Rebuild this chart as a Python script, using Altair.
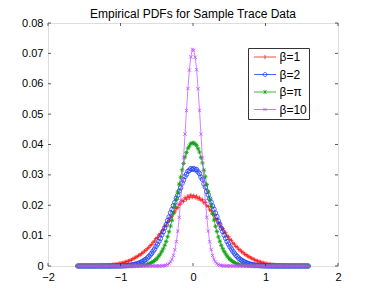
import altair as alt
import pandas as pd

# ---------------- data ----------------
labels = ["β=1", "β=2", "β=π", "β=10"]
x_start = -1.59          # first bin centre
x_step = 0.02            # bin width

beta1 = [
    0, 0, 0, 0, 0, 0.00001, 0.00001, 0.00001, 0.00002, 0.00002,
    0.00003, 0.00003, 0.00004, 0.00006, 0.00007, 0.00008, 0.00010, 0.00013, 0.00015, 0.00017,
    0.00021, 0.00025, 0.00030, 0.00034, 0.00040, 0.00047, 0.00053, 0.00062, 0.00071, 0.00082,
    0.00093, 0.00101, 0.00118, 0.00131, 0.00149, 0.00163, 0.00185, 0.00198, 0.00236, 0.00252,
    0.00285, 0.00309, 0.00348, 0.00366, 0.00412, 0.00436, 0.00491, 0.00515, 0.00572, 0.00604,
    0.00671, 0.00705, 0.00782, 0.00818, 0.00905, 0.00938, 0.01025, 0.01068, 0.01152, 0.01198,
    0.01302, 0.01349, 0.01446, 0.01492, 0.01597, 0.01641, 0.01752, 0.01781, 0.01893, 0.01921,
    0.02034, 0.02042, 0.02151, 0.02128, 0.02245, 0.02198, 0.02301, 0.02245, 0.02338, 0.02262,
    0.02318, 0.02251, 0.02296, 0.02212, 0.02243, 0.02165, 0.02180, 0.02078, 0.02091, 0.01985,
    0.01962, 0.01848, 0.01820, 0.01702, 0.01684, 0.01563, 0.01532, 0.01408, 0.01385, 0.01268,
    0.01232, 0.01119, 0.01095, 0.00985, 0.00962, 0.00868, 0.00845, 0.00752, 0.00721, 0.00642,
    0.00623, 0.00548, 0.00527, 0.00468, 0.00449, 0.00392, 0.00378, 0.00331, 0.00315, 0.00272,
    0.00258, 0.00223, 0.00207, 0.00176, 0.00165, 0.00141, 0.00133, 0.00112, 0.00103, 0.00088,
    0.00081, 0.00068, 0.00061, 0.00051, 0.00046, 0.00038, 0.00034, 0.00027, 0.00025, 0.00020,
    0.00017, 0.00014, 0.00012, 0.00010, 0.00008, 0.00007, 0.00005, 0.00004, 0.00003, 0.00003,
    0.00002, 0.00002, 0.00001, 0.00001, 0.00001, 0, 0, 0, 0, 0,
]

beta2 = [
    0, 0, 0, 0, 0, 0, 0, 0, 0, 0,
    0, 0, 0, 0, 0, 0, 0, 0, 0, 0,
    0, 0, 0, 0, 0.00001, 0.00001, 0.00002, 0.00002, 0.00003, 0.00004,
    0.00005, 0.00007, 0.00009, 0.00012, 0.00015, 0.00020, 0.00025, 0.00032, 0.00040, 0.00050,
    0.00061, 0.00074, 0.00092, 0.00108, 0.00137, 0.00158, 0.00192, 0.00218, 0.00263, 0.00307,
    0.00362, 0.00418, 0.00493, 0.00557, 0.00645, 0.00718, 0.00812, 0.00905, 0.01025, 0.01128,
    0.01255, 0.01362, 0.01498, 0.01615, 0.01752, 0.01864, 0.01985, 0.02092, 0.02228, 0.02331,
    0.02468, 0.02575, 0.02728, 0.02832, 0.02948, 0.03021, 0.03115, 0.03148, 0.03205, 0.03182,
    0.03210, 0.03168, 0.03172, 0.03098, 0.03045, 0.02928, 0.02852, 0.02705, 0.02598, 0.02452,
    0.02348, 0.02212, 0.02105, 0.01975, 0.01868, 0.01742, 0.01628, 0.01485, 0.01372, 0.01245,
    0.01135, 0.01015, 0.00912, 0.00805, 0.00722, 0.00635, 0.00562, 0.00485, 0.00423, 0.00358,
    0.00312, 0.00258, 0.00222, 0.00188, 0.00161, 0.00133, 0.00111, 0.00091, 0.00075, 0.00060,
    0.00050, 0.00040, 0.00032, 0.00025, 0.00020, 0.00015, 0.00012, 0.00009, 0.00007, 0.00005,
    0.00004, 0.00003, 0.00002, 0.00002, 0.00001, 0.00001, 0, 0, 0, 0,
    0, 0, 0, 0, 0, 0, 0, 0, 0, 0,
    0, 0, 0, 0, 0, 0, 0, 0, 0, 0,
]

beta_pi = [
    0, 0, 0, 0, 0, 0, 0, 0, 0, 0,
    0, 0, 0, 0, 0, 0, 0, 0, 0, 0,
    0, 0, 0, 0, 0, 0, 0, 0, 0, 0,
    0, 0, 0, 0, 0, 0, 0, 0.00001, 0.00002, 0.00003,
    0.00004, 0.00006, 0.00009, 0.00013, 0.00018, 0.00024, 0.00032, 0.00042, 0.00055, 0.00070,
    0.00091, 0.00114, 0.00146, 0.00179, 0.00221, 0.00268, 0.00332, 0.00398, 0.00482, 0.00568,
    0.00683, 0.00808, 0.00962, 0.01128, 0.01315, 0.01505, 0.01735, 0.01958, 0.02205, 0.02432,
    0.02695, 0.02925, 0.03168, 0.03375, 0.03592, 0.03735, 0.03878, 0.03948, 0.04035, 0.04042,
    0.04058, 0.04012, 0.03972, 0.03862, 0.03752, 0.03571, 0.03392, 0.03152, 0.02938, 0.02682,
    0.02445, 0.02195, 0.01968, 0.01722, 0.01512, 0.01305, 0.01135, 0.00955, 0.00815, 0.00678,
    0.00572, 0.00478, 0.00402, 0.00328, 0.00272, 0.00218, 0.00182, 0.00143, 0.00116, 0.00089,
    0.00071, 0.00054, 0.00042, 0.00031, 0.00024, 0.00018, 0.00013, 0.00009, 0.00006, 0.00004,
    0.00003, 0.00002, 0.00001, 0, 0, 0, 0, 0, 0, 0,
    0, 0, 0, 0, 0, 0, 0, 0, 0, 0,
    0, 0, 0, 0, 0, 0, 0, 0, 0, 0,
    0, 0, 0, 0, 0, 0, 0, 0, 0, 0,
]

beta10 = [
    0, 0, 0, 0, 0, 0, 0, 0, 0, 0,
    0, 0, 0, 0, 0, 0, 0, 0, 0, 0,
    0, 0, 0, 0, 0, 0, 0, 0, 0, 0,
    0, 0, 0, 0, 0, 0, 0, 0, 0, 0,
    0, 0, 0, 0, 0, 0, 0, 0, 0, 0,
    0, 0, 0, 0, 0, 0, 0, 0.00001, 0.00003, 0.00007,
    0.00013, 0.00025, 0.00045, 0.00081, 0.00136, 0.00218, 0.00352, 0.00538, 0.00802, 0.01148,
    0.01598, 0.02162, 0.02815, 0.03562, 0.04345, 0.05118, 0.05842, 0.06448, 0.06885, 0.07128,
    0.07105, 0.06872, 0.06462, 0.05835, 0.05125, 0.04338, 0.03558, 0.02824, 0.02155, 0.01602,
    0.01152, 0.00798, 0.00541, 0.00348, 0.00221, 0.00134, 0.00080, 0.00045, 0.00025, 0.00013,
    0.00007, 0.00003, 0.00001, 0, 0, 0, 0, 0, 0, 0,
    0, 0, 0, 0, 0, 0, 0, 0, 0, 0,
    0, 0, 0, 0, 0, 0, 0, 0, 0, 0,
    0, 0, 0, 0, 0, 0, 0, 0, 0, 0,
    0, 0, 0, 0, 0, 0, 0, 0, 0, 0,
    0, 0, 0, 0, 0, 0, 0, 0, 0, 0,
]

series_values = [beta1, beta2, beta_pi, beta10]
x_ticks = [-2, -1, 0, 1, 2]
y_ticks = [0, 0.01, 0.02, 0.03, 0.04, 0.05, 0.06, 0.07, 0.08]
title_text = "Empirical PDFs for Sample Trace Data"

# ---------------- styles ----------------
colors = ["#ff1a1a", "#1a3cff", "#12a012", "#c04cff"]
marker_paths = [
    "M-1,0L1,0M0,-1L0,1",                                            # +
    "circle",                                                       # o
    "M-1,0L1,0M0,-1L0,1M-0.7,-0.7L0.7,0.7M-0.7,0.7L0.7,-0.7",        # *
    "M-0.8,-0.8L0.8,0.8M-0.8,0.8L0.8,-0.8",                          # x
]
marker_sizes = [18, 20, 20, 18]
legend_paths = [
    "M-1,0L1,0M0,-0.2L0,0.2",
    "M-1,0L1,0M0.18,0A0.18,0.18,0,1,1,-0.18,0A0.18,0.18,0,1,1,0.18,0",
    "M-1,0L1,0M0,-0.2L0,0.2M-0.14,-0.14L0.14,0.14M-0.14,0.14L0.14,-0.14",
    "M-1,0L1,0M-0.15,-0.15L0.15,0.15M-0.15,0.15L0.15,-0.15",
]
FONT = "Liberation Sans"
W, H = 290, 243
TICK = 3

rows = []
for lab, vals in zip(labels, series_values):
    for i, v in enumerate(vals):
        rows.append({"series": lab, "x": round(x_start + i * x_step, 2), "y": v})
df = pd.DataFrame(rows)

xs = alt.Scale(domain=[-2, 2], nice=False, zero=False)
ys = alt.Scale(domain=[0, 0.08], nice=False)

x_axis = alt.Axis(values=x_ticks, ticks=False, tickSize=0, domain=False, grid=False,
                  labelPadding=5, labelFontSize=11, labelFont=FONT, labelColor="black",
                  title=None, labelFlush=False)
y_axis = alt.Axis(values=y_ticks, ticks=False, tickSize=0, domain=False, grid=False,
                  labelPadding=5, labelFontSize=11, labelFont=FONT, labelColor="black",
                  title=None, labelFlush=False,
                  labelExpr="datum.value == 0 ? '0' : format(datum.value, '.2f')")

layers = []
for lab, col, path, sz in zip(labels, colors, marker_paths, marker_sizes):
    sub = df[df.series == lab]
    base = alt.Chart(sub).encode(
        x=alt.X("x:Q", scale=xs, axis=x_axis),
        y=alt.Y("y:Q", scale=ys, axis=y_axis),
    )
    layers.append(base.mark_line(color=col, strokeWidth=0.7))
    layers.append(base.mark_point(shape=path, filled=False, color=col, size=sz, strokeWidth=0.8, opacity=1))

legend_def = alt.Legend(title=None, orient="none", legendX=200, legendY=25,
                        padding=1.5, strokeColor="#333", fillColor="white",
                        labelFont=FONT, labelFontSize=12, labelColor="black",
                        labelExpr="datum.label + '\u00a0\u00a0'",
                        symbolSize=484, symbolStrokeWidth=0.8,
                        clipHeight=15, rowPadding=2.5, symbolOffset=4,
                        labelOffset=3)

# legend (drawn from an empty layer so that only the legend appears)
legend_layer = alt.Chart(df).transform_filter("false").mark_point(filled=False, strokeWidth=0.8, size=484, opacity=1).encode(
    x=alt.X("x:Q", scale=xs, axis=x_axis),
    y=alt.Y("y:Q", scale=ys, axis=y_axis),
    color=alt.Color("series:N", scale=alt.Scale(domain=labels, range=colors), legend=legend_def),
    shape=alt.Shape("series:N", scale=alt.Scale(domain=labels, range=legend_paths), legend=legend_def),
)
layers.append(legend_layer)

# inward tick marks on all four sides
xt = pd.DataFrame({"t": x_ticks})
yt = pd.DataFrame({"t": y_ticks})
tick_style = dict(color="#333", strokeWidth=0.8)
layers.append(alt.Chart(xt).mark_rule(**tick_style).encode(
    x=alt.X("t:Q", scale=xs, axis=x_axis), y=alt.value(H), y2=alt.value(H - TICK)))
layers.append(alt.Chart(xt).mark_rule(**tick_style).encode(
    x=alt.X("t:Q", scale=xs, axis=x_axis), y=alt.value(0), y2=alt.value(TICK)))
layers.append(alt.Chart(yt).mark_rule(**tick_style).encode(
    y=alt.Y("t:Q", scale=ys, axis=y_axis), x=alt.value(0), x2=alt.value(TICK)))
layers.append(alt.Chart(yt).mark_rule(**tick_style).encode(
    y=alt.Y("t:Q", scale=ys, axis=y_axis), x=alt.value(W), x2=alt.value(W - TICK)))

# chart title as a text mark centred above the plot area
title_layer = alt.Chart(pd.DataFrame({"title": [title_text]})).mark_text(
    font=FONT, fontSize=12, color="black", align="center", baseline="alphabetic"
).encode(text="title:N", x=alt.value(W / 2), y=alt.value(-5))
layers.append(title_layer)

chart = alt.layer(*layers).properties(
    width=W, height=H,
    autosize=alt.AutoSizeParams(type="none"),
    padding={"left": 40, "top": 15, "right": 28, "bottom": 20},
).configure_view(stroke="#333", strokeWidth=0.8).configure(background="white")

chart.save("out.html", embed_options={"renderer": "svg", "actions": False})
